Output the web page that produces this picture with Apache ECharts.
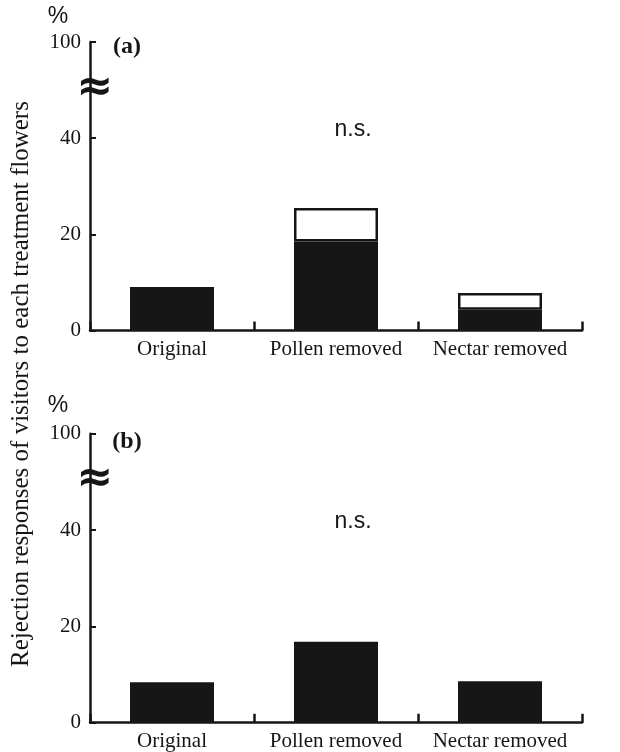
<!DOCTYPE html>
<html>
<head>
<meta charset="utf-8">
<script src="https://cdn.jsdelivr.net/npm/echarts@6/dist/echarts.min.js"></script>
<style>
html,body{margin:0;padding:0;background:#fff;}
#main{width:620px;height:752px;}
</style>
</head>
<body>
<div id="main"></div>
<script>
// ---- data ----
var categories = ['Original', 'Pollen removed', 'Nectar removed'];
// panel (a): black = solid part, white = additional (open) part stacked on top
var aBlack = [8.8, 18.5, 4.3];
var aWhite = [0, 7.0, 3.5];
// panel (b)
var bBlack = [8.4, 16.8, 8.6];
// broken-axis tick labels: the top tick (position 60) stands for 100 %
var tickValues = [0, 20, 40, 60];
var tickLabels = ['0', '20', '40', '100'];

var INK = '#161616';
var serif = '"Liberation Serif", "DejaVu Serif", serif';
var sans = '"Liberation Sans", Arial, sans-serif';

function xAxisFor(i) {
  return {
    type: 'category', gridIndex: i, data: categories,
    axisLine: {lineStyle: {color: INK, width: 2.5}},
    axisTick: {show: true, inside: true, length: 9, lineStyle: {color: INK, width: 2.5}},
    axisLabel: {fontFamily: serif, fontSize: 21, color: INK, margin: 8, interval: 0}
  };
}
function yAxisFor(i) {
  return {
    type: 'value', gridIndex: i, min: 0, max: 60, interval: 20,
    axisLine: {show: true, lineStyle: {color: INK, width: 2.5}},
    axisTick: {show: true, inside: true, length: 6, lineStyle: {color: INK, width: 2}},
    splitLine: {show: false},
    axisLabel: {
      fontFamily: serif, fontSize: 21, color: INK, margin: 9,
      formatter: function (v) { var k = tickValues.indexOf(v); return k >= 0 ? tickLabels[k] : ''; }
    }
  };
}

var chart = echarts.init(document.getElementById('main'), null, {renderer: 'canvas'});
chart.setOption({
  animation: false,
  backgroundColor: '#fff',
  grid: [
    {left: 90, right: 38, top: 42, height: 288.5},
    {left: 90, right: 38, top: 433.7, height: 289}
  ],
  xAxis: [xAxisFor(0), xAxisFor(1)],
  yAxis: [yAxisFor(0), yAxisFor(1)],
  series: [
    {type: 'bar', xAxisIndex: 0, yAxisIndex: 0, stack: 'a', data: aBlack, barWidth: 84,
      itemStyle: {color: INK}},
    {type: 'bar', xAxisIndex: 0, yAxisIndex: 0, stack: 'a', data: aWhite, barWidth: 84,
      itemStyle: {color: '#fff', borderColor: INK, borderWidth: 2.5}},
    {type: 'bar', xAxisIndex: 1, yAxisIndex: 1, data: bBlack, barWidth: 84,
      itemStyle: {color: INK}}
  ]
});

// decorations: axis-break symbols placed through the axis scale
var brkA = chart.convertToPixel({yAxisIndex: 0}, 50);
var brkB = chart.convertToPixel({yAxisIndex: 1}, 50);
chart.setOption({
  graphic: [
    {type: 'text', x: 21, y: 384, rotation: Math.PI / 2,
      style: {text: 'Rejection responses of visitors to each treatment flowers', font: '25px ' + serif,
        fill: INK, textAlign: 'center', textVerticalAlign: 'middle'}},
    {type: 'text', x: 58, y: 17, style: {text: '%', font: '23px ' + sans, fill: INK, textAlign: 'center', textVerticalAlign: 'middle'}},
    {type: 'text', x: 58, y: 406, style: {text: '%', font: '23px ' + sans, fill: INK, textAlign: 'center', textVerticalAlign: 'middle'}},
    {type: 'text', x: 127, y: 47, style: {text: '(a)', font: 'bold 24px ' + serif, fill: INK, textAlign: 'center', textVerticalAlign: 'middle'}},
    {type: 'text', x: 127, y: 442, style: {text: '(b)', font: 'bold 24px ' + serif, fill: INK, textAlign: 'center', textVerticalAlign: 'middle'}},
    {type: 'text', x: 353, y: 130, style: {text: 'n.s.', font: '23px ' + sans, fill: INK, textAlign: 'center', textVerticalAlign: 'middle'}},
    {type: 'text', x: 353, y: 522, style: {text: 'n.s.', font: '23px ' + sans, fill: INK, textAlign: 'center', textVerticalAlign: 'middle'}},
    {type: 'text', x: 95, y: brkA - 2, style: {text: '\u2248', font: 'bold 44px "DejaVu Sans"', fill: INK, textAlign: 'center', textVerticalAlign: 'middle'}},
    {type: 'text', x: 95, y: brkB - 2, style: {text: '\u2248', font: 'bold 44px "DejaVu Sans"', fill: INK, textAlign: 'center', textVerticalAlign: 'middle'}}
  ]
});
</script>
</body>
</html>
